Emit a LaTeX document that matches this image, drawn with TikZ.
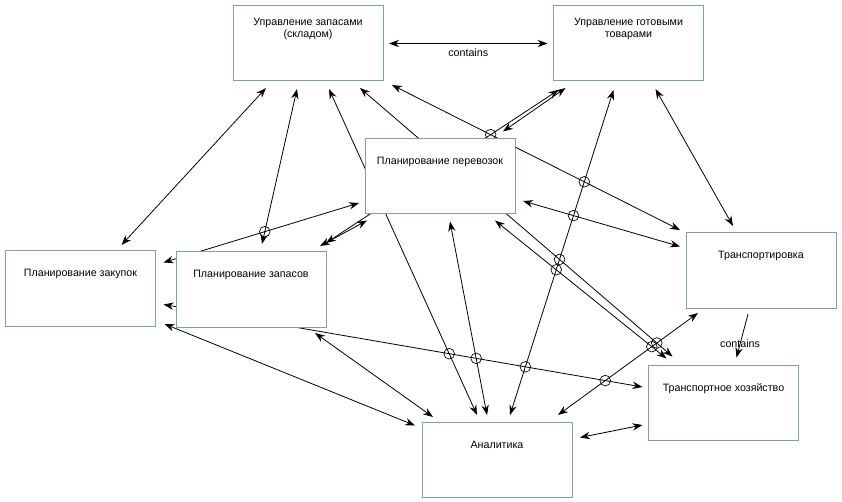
\documentclass[tikz,border=0pt]{standalone}
\usepackage{fontspec}
\setmainfont{Liberation Sans}
\usetikzlibrary{arrows.meta,calc,intersections}
\pgfdeclarelayer{bg}
\pgfsetlayers{bg,main}
\definecolor{boxblue}{RGB}{124,155,204}
\newcommand{\hopmark}[2]{\draw[line width=0.5pt, name intersections={of=#1 and #2, by=hx}] (hx) circle[radius=4pt];}
\tikzset{
  box/.style={draw=boxblue, line width=0.75pt, fill=white, minimum width=112.5pt, minimum height=56.25pt, outer sep=0pt},
  txt/.style={anchor=center, yshift=-17.25pt, align=center, font=\fontsize{8}{9.5}\selectfont},
  con/.style={<->, line width=0.6pt},
  one/.style={->, line width=0.6pt},
  rel/.style={font=\fontsize{8}{9.5}\selectfont}
}

\begin{document}
\begin{tikzpicture}[x=0.75pt, y=-0.75pt, >={Stealth[length=7.5pt,width=5.5pt,inset=2.5pt]}]
\node[box, label={[txt]north:Управление запасами\\(складом)}] (sklad) at (308,43.5) {};
\node[box, label={[txt]north:Управление готовыми\\товарами}] (gotov) at (628.5,43.5) {};
\node[box, label={[txt]north:Планирование перевозок}] (perevoz) at (440,176) {};
\node[box, label={[txt]north:Планирование закупок}] (zakup) at (80.5,288.5) {};
\node[box, label={[txt]north:Планирование запасов}] (zapas) at (251,289.5) {};
\node[box, label={[txt]north:Транспортировка}] (transp) at (761,270.5) {};
\node[box, label={[txt]north:Транспортное хозяйство}] (hoz) at (723.5,403) {};
\node[box, label={[txt]north:Аналитика}] (analit) at (497,459.5) {};

\begin{pgfonlayer}{bg}
\fill[white] (0,0) rectangle (842,502);
% from the store
\draw[con] ($(sklad.east)+(6,0)$) -- ($(gotov.west)+(-6,0)$) node[rel, midway, below] {contains};
\draw[con] ($(sklad.south)+(-42,7)$) -- ($(zakup.north)+(41,-6)$);
\draw[con, name path=ae] ($(sklad.south)+(-11,8)$) -- ($(zapas.north)+(11,-8)$);
\draw[con, name path=ah] ($(sklad.south)+(21,8)$) -- ($(analit.north)+(-20,-7)$);
\draw[con, name path=ag] ($(sklad.south)+(52,7)$) -- ($(hoz.north west)+(24,-9)$);
\draw[con, name path=af] ($(sklad.south east)+(9,4)$) -- ($(transp.north west)+(-6,-3)$);
% goods
\draw[con, name path=eb] ($(zapas.north east)+(0,-9)$) -- ($(gotov.south)+(-70,9)$);
\draw[con] ($(perevoz.north)+(63,-7)$) -- ($(gotov.south)+(-63,7)$);
\draw[con, name path=bh] ($(gotov.south)+(-15,9)$) -- ($(analit.north)+(13,-7)$);
\draw[con] ($(gotov.south)+(27,8)$) -- ($(transp.north)+(-28,-7)$);
% transport planning
\draw[con] ($(perevoz.south west)+(2,7)$) -- ($(zapas.north east)+(-6,-6)$);
\draw[con, name path=cf] ($(perevoz.east)+(8,25)$) -- ($(transp.west)+(-6,-24)$);
\draw[con, name path=cg] ($(perevoz.south)+(55,7)$) -- ($(hoz.north west)+(18,-7)$);
\draw[con, name path=ch] ($(perevoz.south)+(10,8)$) -- ($(analit.north)+(-10,-7)$);
% purchases
\draw[con, name path=dc] ($(zakup.east)+(8,-26)$) -- ($(perevoz.west)+(-6,27)$);
\draw[con, name path=dg] ($(zakup.east)+(8,16)$) -- ($(hoz.west)+(-6,-16)$);
\draw[con] ($(zakup.south east)+(9,-2)$) -- ($(analit.west)+(-7,-34)$);
\draw[con] ($(zapas.south)+(64,6)$) -- ($(analit.north west)+(11,-5)$);
% analytics
\draw[con, name path=hf] ($(analit.north)+(61,-7)$) -- ($(transp.south west)+(12,5)$);
\draw[con] ($(analit.east)+(8,-22)$) -- ($(hoz.west)+(-6,22)$);
\draw[one] ($(transp.south)+(-13,6)$) -- ($(hoz.north)+(13,-8)$) node[rel, pos=0.69] {contains};

\hopmark{ae}{dc}
\hopmark{af}{eb}
\hopmark{af}{bh}
\hopmark{cf}{bh}
\hopmark{ag}{bh}
\hopmark{cg}{bh}
\hopmark{dg}{ah}
\hopmark{dg}{ch}
\hopmark{dg}{bh}
\hopmark{dg}{hf}
\hopmark{hf}{ag}
\hopmark{hf}{cg}
\end{pgfonlayer}
\useasboundingbox (0,0) rectangle (842,502);
\end{tikzpicture}
\end{document}
